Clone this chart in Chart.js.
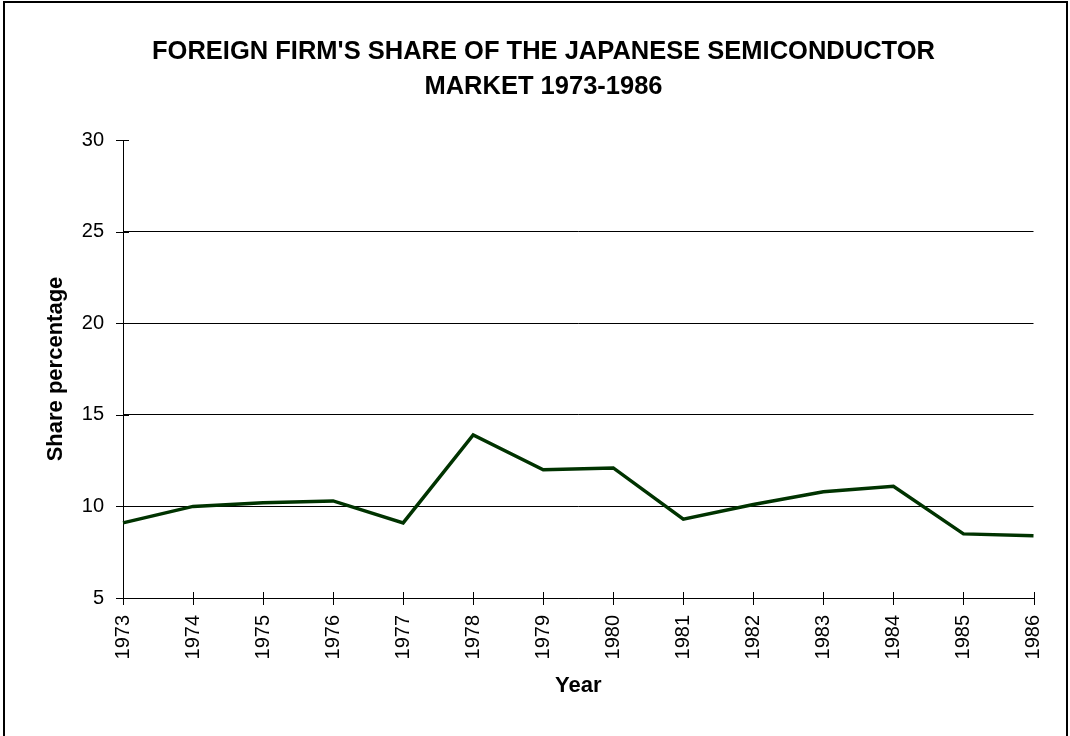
<!DOCTYPE html>
<html><head><meta charset="utf-8">
<script src="https://cdn.jsdelivr.net/npm/chart.js@4.4.0/dist/chart.umd.min.js"></script>
<style>html,body{margin:0;padding:0;background:#fff}#wrap{width:1070px;height:736px;position:relative}canvas{display:block}</style>
</head><body><div id="wrap"><canvas id="c" width="1070" height="736"></canvas></div>
<script>
const years = ['1973','1974','1975','1976','1977','1978','1979','1980','1981','1982','1983','1984','1985','1986'];
const share = [9.1, 10.0, 10.2, 10.3, 9.1, 13.9, 12.0, 12.1, 9.3, 10.1, 10.8, 11.1, 8.5, 8.4];
const yMin = 5, yMax = 30, yStep = 5;
const titleLines = ["FOREIGN FIRM'S SHARE OF THE JAPANESE SEMICONDUCTOR", "MARKET 1973-1986"];
const xTitle = 'Year';
const yTitle = 'Share percentage';

const FONT = "'Liberation Sans', Arial, sans-serif";

const crossTicks = {
  id: 'crossTicks',
  beforeDatasetsDraw(chart) {
    const {ctx, chartArea: a, scales: {x, y}} = chart;
    ctx.save();
    ctx.strokeStyle = '#000';
    ctx.lineWidth = 1;
    ctx.beginPath();
    y.ticks.forEach(t => {
      const py = Math.round(y.getPixelForValue(t.value)) + 0.5;
      ctx.moveTo(a.left - 7, py); ctx.lineTo(a.left + 6, py);
    });
    x.ticks.forEach((t, i) => {
      const px = Math.round(x.getPixelForValue(i)) + 0.5;
      ctx.moveTo(px, a.bottom - 6); ctx.lineTo(px, a.bottom + 7);
    });
    ctx.stroke();
    ctx.restore();
  },
  afterDraw(chart) {
    const ctx = chart.ctx;
    ctx.save();
    ctx.strokeStyle = '#000';
    ctx.lineWidth = 2;
    ctx.beginPath();
    ctx.moveTo(4, 736); ctx.lineTo(4, 2); ctx.lineTo(1067, 2); ctx.lineTo(1067, 736);
    ctx.stroke();
    ctx.restore();
  }
};

new Chart(document.getElementById('c'), {
  type: 'line',
  data: {
    labels: years,
    datasets: [{
      data: share,
      borderColor: '#003300',
      borderWidth: 3.5,
      pointRadius: 0,
      tension: 0,
      fill: false
    }]
  },
  options: {
    responsive: false,
    animation: false,
    devicePixelRatio: 1,
    layout: {padding: {left: 53.5, right: 36.5, top: 0, bottom: 0}},
    plugins: {
      legend: {display: false},
      tooltip: {enabled: false},
      title: {
        display: true,
        text: titleLines,
        color: '#000',
        font: {family: FONT, size: 25.5, weight: 'bold', lineHeight: 1.385},
        padding: {top: 34, bottom: 35.4}
      }
    },
    scales: {
      x: {
        offset: false,
        grid: {display: false, drawTicks: false},
        border: {display: true, color: '#000', width: 1},
        ticks: {
          autoSkip: false, maxRotation: 90, minRotation: 90,
          color: '#000', padding: 17,
          font: {family: FONT, size: 20}
        },
        title: {
          display: true, text: xTitle, color: '#000',
          font: {family: FONT, size: 22, weight: 'bold', lineHeight: 1.2},
          padding: {top: 0, bottom: 36.8}
        },
        afterFit(scale) { scale.height = 138; scale.paddingLeft = 0; scale.paddingRight = 0; }
      },
      y: {
        min: yMin, max: yMax,
        grid: {
          drawTicks: false,
          color: c => (c.tick && c.tick.value === yMax) ? 'rgba(0,0,0,0)' : '#000',
          lineWidth: 1
        },
        border: {display: true, color: '#000', width: 1},
        ticks: {
          stepSize: yStep, color: '#000', padding: 19,
          font: {family: FONT, size: 20}
        },
        title: {
          display: true, text: yTitle, color: '#000',
          font: {family: FONT, size: 22, weight: 'bold', lineHeight: 1.2},
          padding: {top: -10.7, bottom: 0}
        },
        afterFit(scale) { scale.width = 69.5; }
      }
    }
  },
  plugins: [crossTicks]
});
</script>
</body></html>
